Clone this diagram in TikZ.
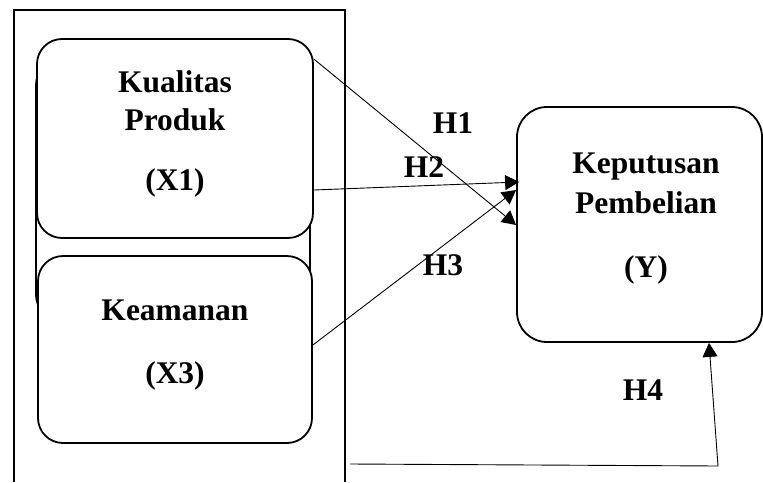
\documentclass[tikz,border=0pt]{standalone}
\usepackage{fontspec}
\setmainfont{Liberation Serif}
\usetikzlibrary{arrows.meta, calc}

\begin{document}
\begin{tikzpicture}[
    x = 1pt, y = -1pt,
    font = \bfseries\fontsize{31.5}{38}\selectfont,
    varbox/.style = {
      rectangle, rounded corners = 25pt, draw, line width = 1.8pt,
      fill = white, inner sep = 0pt
    },
    frame/.style = {
      draw, line width = 1.8pt
    },
    txt/.style = {
      anchor = base, inner sep = 0pt
    },
    hyp/.style = {
      line width = 0.9pt, -{Triangle[length = 14pt, width = 15pt]}
    },
    ]
    \useasboundingbox (0,0) rectangle (763,482);

    % draw frame
    \draw  [frame]  (14,482) -- (14,10) -- (345,10) -- (345,482);

    % draw boxes
    \node  [varbox, minimum width = 274pt, minimum height = 260pt]  (x2)  at (173,190)  {};
    \node  [varbox, minimum width = 276pt, minimum height = 199pt]  (x1)  at (175,138.5)  {};
    \node  [varbox, minimum width = 274pt, minimum height = 187pt]  (x3)  at (175,349.5)  {};
    \node  [varbox, minimum width = 245pt, minimum height = 235pt, rounded corners = 30pt]  (y)  at (639.5,224.5)  {};

    % draw texts
    \node  [txt]  (x1a)  at (175,92)  {Kualitas};
    \node  [txt]  (x1b)  at (175,130)  {Produk};
    \node  [txt]  (x1c)  at (175,190)  {(X1)};
    \node  [txt]  (x3a)  at (175,320)  {Keamanan};
    \node  [txt]  (x3b)  at (175,383)  {(X3)};
    \node  [txt]  (ya)  at (646,173)  {Keputusan};
    \node  [txt]  (yb)  at (646,213)  {Pembelian};
    \node  [txt]  (yc)  at (646,277)  {(Y)};

    % draw hypotheses
    \node  [txt]  (h1)  at (453,133)  {H1};
    \node  [txt]  (h2)  at (424,177)  {H2};
    \node  [txt]  (h3)  at (443,275)  {H3};
    \node  [txt]  (h4)  at (643,400)  {H4};

    % draw paths
    \draw  [hyp]  ([yshift = -21pt]x1.north east)  --  ([yshift = -0.5pt]y.west);
    \draw  [hyp]  ([yshift = -51.5pt]x1.east)  --  ([yshift = 42.5pt, xshift = 3pt]y.west);
    \draw  [hyp]  ([yshift = 4.5pt]x3.east)  --  ([yshift = 34.5pt]y.west);

    \coordinate  (s4)  at (350,464);
    \coordinate  (c4)  at (718,466);
    \draw  [hyp]  (s4)  --  (c4)  --  ([xshift = 69.5pt]y.south);
\end{tikzpicture}
\end{document}
